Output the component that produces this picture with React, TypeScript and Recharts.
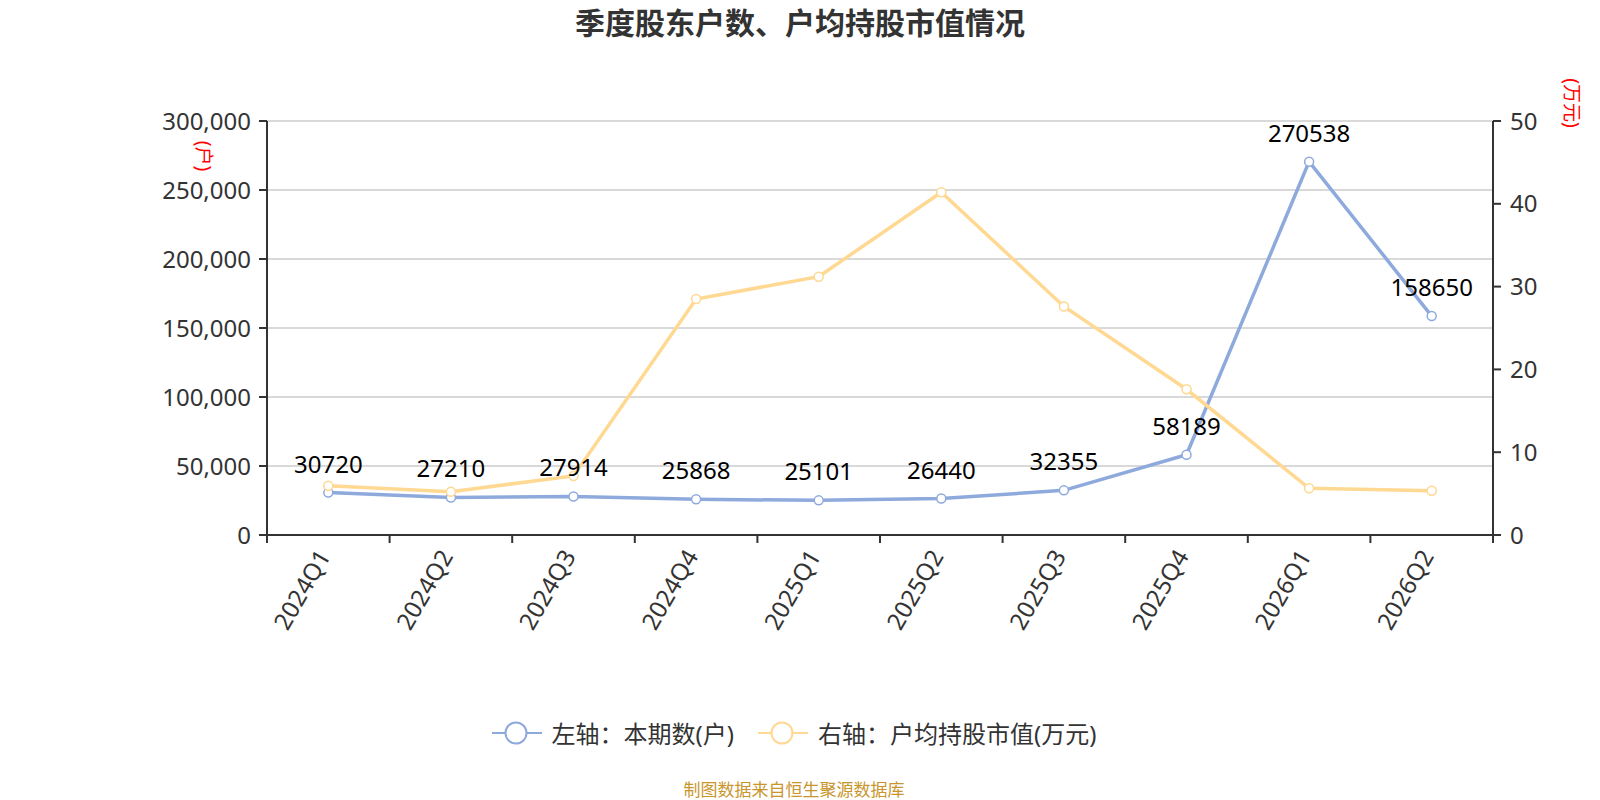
import React from 'react'
import {
    ComposedChart,
    Line,
    XAxis,
    YAxis,
    CartesianGrid,
    LabelList
} from 'recharts'

const quarters = ['2024Q1', '2024Q2', '2024Q3', '2024Q4', '2025Q1', '2025Q2', '2025Q3', '2025Q4', '2026Q1', '2026Q2']
const holders = [30720, 27210, 27914, 25868, 25101, 26440, 32355, 58189, 270538, 158650]
const avgValue = [5.95, 5.23, 7.13, 28.5, 31.2, 41.4, 27.6, 17.6, 5.64, 5.35]

const leftTicks = [0, 50000, 100000, 150000, 200000, 250000, 300000]
const rightTicks = [0, 10, 20, 30, 40, 50]

const BLUE = '#8eaadc'
const ORANGE = '#ffd892'
const FONT = '"Noto Sans", "Noto Sans CJK SC", sans-serif'

const CHART_W = 1600
const CHART_H = 800
const MARGIN = { top: 121, right: 27, left: 157, bottom: 165 }
const LEFT_W = 110
const RIGHT_W = 80
const PLOT_W = CHART_W - MARGIN.left - MARGIN.right - LEFT_W - RIGHT_W

const data = quarters.map((q, i) => ({ q, holders: holders[i], avg: avgValue[i] }))

// x tick: boundary tick marks + rotated label
const QuarterTick = (props: any) => {
    const { x, y, payload, index } = props
    const bw = PLOT_W / quarters.length
    return (
        <g>
            <line x1={x - bw / 2} y1={y - 8} x2={x - bw / 2} y2={y} stroke="#333" strokeWidth={2} />
            {index === quarters.length - 1 && (
                <line x1={x + bw / 2} y1={y - 8} x2={x + bw / 2} y2={y} stroke="#333" strokeWidth={2} />
            )}
            <text
                x={x + 3}
                y={y + 13}
                textAnchor="end"
                fontSize={24}
                fill="#333"
                fontFamily={FONT}
                transform={`rotate(-60, ${x + 3}, ${y + 13})`}
            >
                {payload.value}
            </text>
        </g>
    )
}

const unitLabel = (text: string, dx: number, dy: number) => (p: any) => {
    const vb = p.viewBox || {}
    const cx = vb.x + dx
    const cy = vb.y + dy
    return (
        <text
            x={cx}
            y={cy}
            textAnchor="middle"
            dominantBaseline="central"
            fontSize={19}
            fill="#ff0000"
            fontFamily={FONT}
            transform={`rotate(90, ${cx}, ${cy})`}
        >
            {text}
        </text>
    )
}

const LegendItem = ({ color, label }: { color: string; label: string }) => (
    <div style={{ display: 'flex', alignItems: 'center', gap: 10 }}>
        <svg width={50} height={26}>
            <line x1={0} y1={13} x2={50} y2={13} stroke={color} strokeWidth={2} />
            <circle cx={24} cy={13} r={10.5} fill="#fff" stroke={color} strokeWidth={2} />
        </svg>
        <span>{label}</span>
    </div>
)

export default function App() {
    return (
        <div style={{ position: 'absolute', left: 0, top: 0, width: CHART_W, height: CHART_H, background: '#fff', fontFamily: FONT }}>
            <div style={{ position: 'absolute', top: 3, left: 0, width: CHART_W, textAlign: 'center', fontSize: 30, fontWeight: 'bold', color: '#333', lineHeight: '40px' }}>
                季度股东户数、户均持股市值情况
            </div>

            <ComposedChart width={CHART_W} height={CHART_H} data={data} margin={MARGIN}>
                <CartesianGrid yAxisId="left" vertical={false} stroke="#cccccc" strokeWidth={1.5} />
                <XAxis
                    dataKey="q"
                    scale="band"
                    interval={0}
                    height={100}
                    tickSize={8}
                    tickMargin={0}
                    tickLine={false}
                    axisLine={{ stroke: '#333', strokeWidth: 2 }}
                    tick={<QuarterTick />}
                />
                <YAxis
                    yAxisId="left"
                    width={LEFT_W}
                    domain={[0, 300000]}
                    ticks={leftTicks}
                    tickFormatter={(v) => Number(v).toLocaleString('en-US')}
                    tick={{ fontSize: 24, fill: '#333', fontFamily: FONT }}
                    tickSize={8}
                    tickMargin={8}
                    tickLine={{ stroke: '#333', strokeWidth: 2 }}
                    axisLine={{ stroke: '#333', strokeWidth: 2 }}
                    label={{ value: '(户)', content: unitLabel('(户)', 47, 35) }}
                />
                <YAxis
                    yAxisId="right"
                    orientation="right"
                    width={RIGHT_W}
                    domain={[0, 50]}
                    ticks={rightTicks}
                    tick={{ fontSize: 24, fill: '#333', fontFamily: FONT }}
                    tickSize={8}
                    tickMargin={9}
                    tickLine={{ stroke: '#333', strokeWidth: 2 }}
                    axisLine={{ stroke: '#333', strokeWidth: 2 }}
                    label={{ value: '(万元)', content: unitLabel('(万元)', 79, -18) }}
                />
                <Line
                    yAxisId="left"
                    dataKey="holders"
                    stroke={BLUE}
                    strokeWidth={3.5}
                    dot={{ r: 4.5, fill: '#fff', stroke: BLUE, strokeWidth: 1.5 }}
                    activeDot={false}
                    isAnimationActive={false}
                />
                <Line
                    yAxisId="right"
                    dataKey="avg"
                    stroke={ORANGE}
                    strokeWidth={3.5}
                    dot={{ r: 4.5, fill: '#fff', stroke: ORANGE, strokeWidth: 1.5 }}
                    activeDot={false}
                    isAnimationActive={false}
                />
                {/* labels drawn last so they sit above both lines */}
                <Line
                    yAxisId="left"
                    dataKey="holders"
                    stroke="none"
                    dot={false}
                    activeDot={false}
                    legendType="none"
                    isAnimationActive={false}
                >
                    <LabelList dataKey="holders" position="top" offset={20} fill="#000" fontSize={24} fontFamily={FONT} />
                </Line>
            </ComposedChart>

            <div style={{ position: 'absolute', top: 715, left: 0, width: 1588, display: 'flex', justifyContent: 'center', gap: 24, fontSize: 24, color: '#333' }}>
                <LegendItem color={BLUE} label="左轴：本期数(户)" />
                <LegendItem color={ORANGE} label="右轴：户均持股市值(万元)" />
            </div>

            <div style={{ position: 'absolute', top: 778, left: 0, width: 1588, textAlign: 'center', fontSize: 17, color: '#c8962c', lineHeight: '24px' }}>
                制图数据来自恒生聚源数据库
            </div>
        </div>
    )
}
